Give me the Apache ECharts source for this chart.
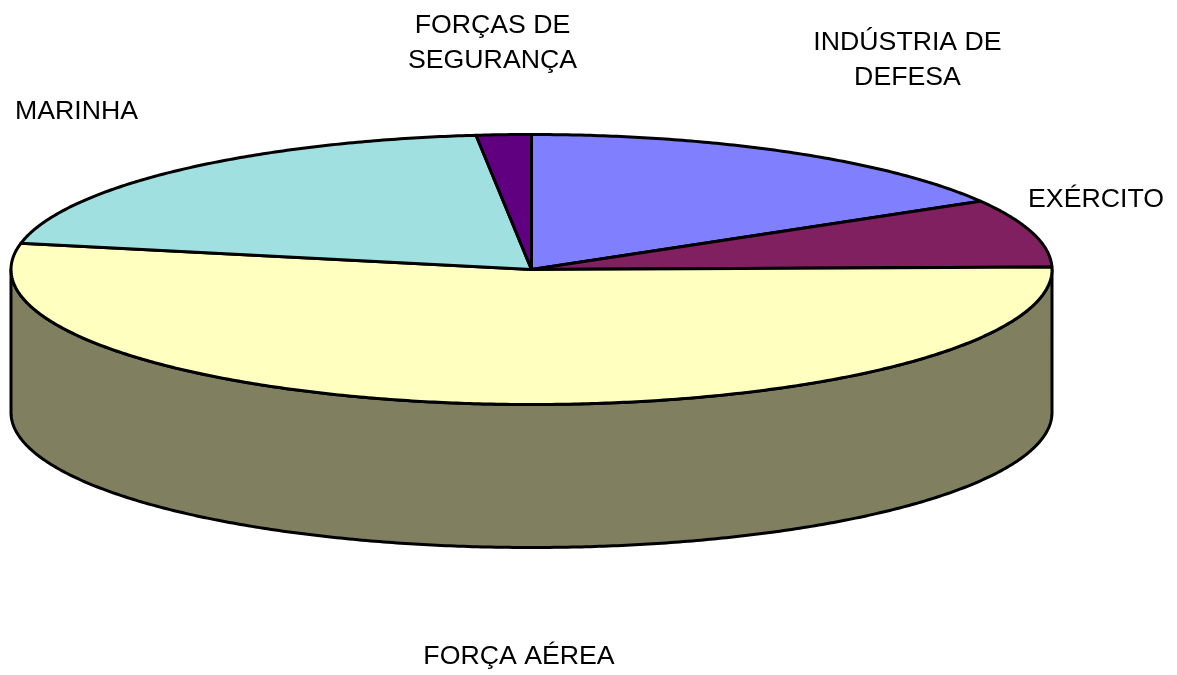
<!DOCTYPE html>
<html>
<head>
<meta charset="utf-8">
<style>html,body{margin:0;padding:0;background:#fff}#c{width:1177px;height:675px}</style>
<script src="https://cdn.jsdelivr.net/npm/echarts@6/dist/echarts.min.js"></script>
</head>
<body>
<div id="c"></div>
<script>
const categories = ['INDÚSTRIA DE\nDEFESA', 'EXÉRCITO', 'FORÇA AÉREA', 'MARINHA', 'FORÇAS DE\nSEGURANÇA'];
const values = [16.55, 8.15, 53.4, 20.2, 1.7];
const colors = ['#8080FF', '#802060', '#FFFFC0', '#A0E0E0', '#600080'];
const sideColors = ['#404080', '#401030', '#808060', '#507070', '#300040'];
const labelCenters = [[907.5, 60], [1096, 199.5], [519, 657], [76.5, 112], [492.5, 43]];

const cx = 531.5, cy = 269.5, rx = 520.5, ry = 135, depth = 143;
const total = values.reduce((a, b) => a + b, 0);
const starts = [];
values.reduce((acc, v, i) => { starts[i] = acc; return acc + v; }, 0);
const pt = (deg, dy) => {
  const r = deg * Math.PI / 180;
  return [cx + rx * Math.sin(r), cy - ry * Math.cos(r) + (dy || 0)];
};
const arc = (a, b, dy) => {
  const pts = [];
  const n = Math.max(2, Math.ceil(Math.abs(b - a) * 2));
  for (let i = 0; i <= n; i++) pts.push(pt(a + (b - a) * i / n, dy));
  return pts;
};
const lineStyle = { stroke: '#000', lineWidth: 3, lineJoin: 'round' };

const chart = echarts.init(document.getElementById('c'), null, { renderer: 'canvas' });

function renderItem(params, api) {
  const i = params.dataIndex;
  const a0 = starts[i] / total * 360;
  const a1 = a0 + api.value(0) / total * 360;
  const children = [];
  // front wall: only the part of the slice on the near half of the ellipse
  const w0 = Math.max(a0, 90), w1 = Math.min(a1, 270);
  if (w1 > w0) {
    children.push({
      type: 'polygon', z2: 1,
      shape: { points: arc(w0, w1, 0).concat(arc(w1, w0, depth)) },
      style: Object.assign({ fill: sideColors[i] }, lineStyle)
    });
  }
  // top face
  children.push({
    type: 'polygon', z2: 2,
    shape: { points: [[cx, cy]].concat(arc(a0, a1, 0)) },
    style: Object.assign({ fill: colors[i] }, lineStyle)
  });
  children.push({
    type: 'text', z2: 3,
    style: {
      text: categories[i],
      x: labelCenters[i][0], y: labelCenters[i][1],
      align: 'center', verticalAlign: 'middle',
      fill: '#000', fontFamily: '"Liberation Sans", Arial, sans-serif',
      fontSize: 26.7, lineHeight: 35
    }
  });
  return { type: 'group', children };
}

chart.setOption({
  animation: false,
  backgroundColor: '#fff',
  series: [{
    type: 'custom',
    coordinateSystem: 'none',
    silent: true,
    renderItem,
    data: values.map((v, i) => ({ name: categories[i], value: [v] }))
  }]
});
</script>
</body>
</html>
